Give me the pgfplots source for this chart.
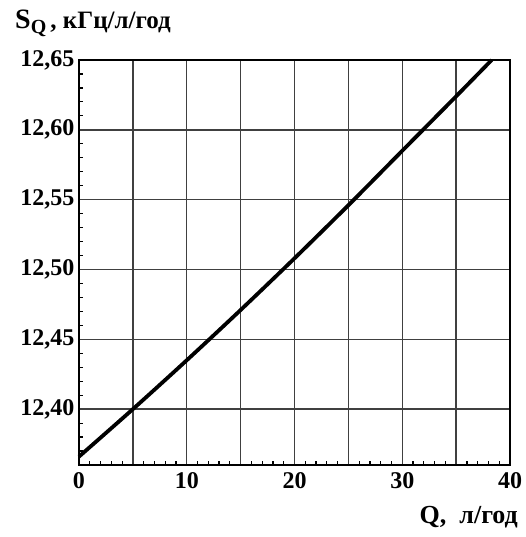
\documentclass[border=0pt]{standalone}
\usepackage{fontspec}
\setmainfont{Liberation Serif}
\usepackage{pgfplots}
\pgfplotsset{compat=1.18}
\begin{document}
\begin{tikzpicture}
\begin{axis}[
  scale only axis,
  width=431pt, height=405pt,
  xmin=0, xmax=40, ymin=12.36, ymax=12.65,
  xtick={0,5,...,40},
  xticklabels={0,,10,,20,,30,,40},
  ytick={12.40,12.45,12.50,12.55,12.60,12.65},
  minor xtick={1,2,3,4,6,7,8,9,11,12,13,14,16,17,18,19,21,22,23,24,26,27,28,29,31,32,33,34,36,37,38,39},
  minor ytick={12.37,12.38,12.39,12.41,12.42,12.43,12.44,12.46,12.47,12.48,12.49,12.51,12.52,12.53,12.54,12.56,12.57,12.58,12.59,12.61,12.62,12.63,12.64},
  tick pos=left,
  tick align=inside,
  major tick length=0pt,
  minor tick length=4pt,
  every minor tick/.style={line width=1.2pt, black},
  grid=major,
  major grid style={line width=1.4pt, black!75},
  axis line style={line width=2.8pt, black},
  ticklabel style={font=\fontsize{24}{26}\selectfont\bfseries},
  /pgf/number format/assume math mode=true,
  yticklabel style={xshift=-1pt, /pgf/number format/use comma, /pgf/number format/fixed, /pgf/number format/fixed zerofill, /pgf/number format/precision=2, /pgf/number format/1000 sep={}},
  xticklabel style={yshift=-4pt},
  clip=false,
]
\addplot[black, line width=3.8pt, smooth] coordinates {
  (0,12.366) (5,12.400) (10,12.435) (15,12.471) (20,12.508) (25,12.546) (30,12.585) (35,12.624) (38.3,12.650)
};
\node[anchor=base west, inner sep=0pt, font=\bfseries] at ([xshift=-64pt, yshift=31pt]rel axis cs:0,1)
  {\fontsize{28}{30}\selectfont S\raisebox{-5pt}{\fontsize{20}{22}\selectfont Q}\fontsize{25}{28}\selectfont\,, кГц/л/год};
\node[anchor=base east, inner sep=0pt, font=\bfseries] at ([xshift=8pt, yshift=-58pt]rel axis cs:1,0)
  {\fontsize{26}{28}\selectfont Q,\ \ л/год};
\end{axis}
\path (current axis.south west) ++(-79pt,-72pt) rectangle ([xshift=10pt,yshift=60pt]current axis.north east);
\end{tikzpicture}
\end{document}
